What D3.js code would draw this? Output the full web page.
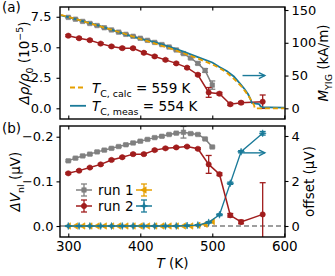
<!DOCTYPE html>
<html><head><meta charset="utf-8">
<script src="https://cdn.jsdelivr.net/npm/d3@7"></script>
<style>body{margin:0;background:#fff} svg{display:block} text{font-family:"DejaVu Sans",sans-serif}</style>
</head><body><svg id="c" width="335" height="276"></svg>
<script>
// ---- data ----
const run1T      = [300,310,320,330,340,350,360,370,380,390,400,410,420,430,440,450,460,470,480,490,500];
const run1Rho    = [7.45,7.30,7.12,6.95,6.78,6.60,6.42,6.24,6.06,5.90,5.74,5.57,5.40,5.22,5.02,4.78,4.48,4.12,3.68,3.10,1.90];
const run1RhoErr = [0.05,0.05,0.05,0.05,0.05,0.05,0.05,0.05,0.05,0.05,0.05,0.05,0.05,0.05,0.05,0.06,0.06,0.08,0.10,0.15,0.34];
const run1Vnl    = [-0.146,-0.152,-0.157,-0.161,-0.166,-0.170,-0.174,-0.178,-0.182,-0.186,-0.190,-0.194,-0.198,-0.201,-0.205,-0.208,-0.210,-0.207,-0.205,-0.195,-0.177];
const run1VnlErr = [0.002,0.002,0.002,0.002,0.002,0.002,0.002,0.002,0.002,0.002,0.002,0.002,0.002,0.002,0.002,0.002,0.013,0.002,0.002,0.002,0.002];
const run1Off    = [0,0,0,0,0,0,0,0,0,0,0,0,0,0,0,0,0,0,0.03,0.08,0.2];

const run2T      = [300,315,330,345,360,375,390,405,420,435,450,465,480,495,510,525,540,570];
const run2Rho    = [5.95,5.74,5.58,5.30,5.07,4.93,4.92,4.55,4.25,3.97,3.68,3.33,2.75,1.30,1.20,0.33,0.46,0.54];
const run2RhoErr = [0.08,0.08,0.08,0.08,0.08,0.08,0.08,0.08,0.08,0.08,0.08,0.08,0.08,0.40,0.10,0.10,0.10,0.55];
const run2Vnl    = [-0.118,-0.124,-0.131,-0.138,-0.148,-0.154,-0.161,-0.161,-0.170,-0.174,-0.176,-0.178,-0.173,-0.138,-0.116,-0.024,-0.009,-0.026];
const run2VnlErr = [0.002,0.002,0.002,0.002,0.002,0.002,0.002,0.002,0.002,0.002,0.002,0.002,0.002,0.020,0.003,0.004,0.004,0.071];
const run2Off    = [0,0,0,0,0,0,0,0,0,0,0,0.02,0.04,0.16,0.50,1.90,3.30,4.12];
const run2OffErr = [0.02,0.02,0.02,0.02,0.02,0.02,0.02,0.02,0.02,0.02,0.02,0.02,0.02,0.03,0.04,0.05,0.05,0.08];

const mMeasT = [290,300,320,340,360,380,400,420,440,460,480,500,510,520,530,540,545,550,553,555,560,565,567,570,580,600];
const mMeasV = [142,139,133,127,120,112.5,106,101,94,86.5,78,70,63,57,48.5,36,29,21,14,8,7,6.5,3,1.5,1.5,1];
const mCalcT = [290,300,320,340,360,380,400,420,440,460,480,500,510,520,530,540,545,550,554,556,558,559,600];
const mCalcV = [142.5,139.5,133,126.5,120,113,106,99,92,84,76,67,61.5,54.5,45,34,27,19.5,12,8.5,5,0,0];

const xTicks   = [300,400,500,600];
const rhoTicks = [0,2.5,5,7.5];
const mTicks   = [0,50,100,150];
const vnlTicks = [0,-0.1,-0.2];
const offTicks = [0,2,4];

const legendA = [{tc:"C, calc", val:"559"},{tc:"C, meas", val:"554"}];
const legendB = ["run 1","run 2"];

// ---- style ----
const C = {gray:"#808080", red:"#a11d1d", teal:"#1a7a99", orange:"#e69f00"};
const FS = 13.5, TFS = 13;
const svg = d3.select("#c");
const L = 60, R = 285, aT = 7, aB = 119, bT = 126, bB = 237;

const x  = d3.scaleLinear().domain([288.5,601]).range([L,R]);
const yA = d3.scaleLinear().domain([-0.877,8.30]).range([aB,aT]);
const yM = d3.scaleLinear().domain([-16.3,154.6]).range([aB,aT]);
const yB = d3.scaleLinear().domain([0.0246,-0.224]).range([bB,bT]);
const yO = d3.scaleLinear().domain([-0.489,4.444]).range([bB,bT]);

svg.append("defs").html(`<clipPath id="ca"><rect x="${L}" y="${aT}" width="${R-L}" height="${aB-aT}"/></clipPath>
<clipPath id="cb"><rect x="${L}" y="${bT}" width="${R-L}" height="${bB-bT}"/></clipPath>`);

function rich(sel, parts, fs){
  let shift = 0;
  parts.forEach(p=>{
    const ts = sel.append("tspan").text(p.t);
    const target = p.sub ? fs*0.3 : p.sup ? -fs*0.42 : 0;
    const dy = target - shift;
    if (dy) ts.attr("dy", dy);
    shift = target;
    if (p.sub||p.sup) ts.attr("font-size", fs*0.7);
    if (p.i) ts.attr("font-style","italic");
  });
}

const triL = "M-3.2,0L2.2,-3.2L2.2,3.2Z";
const star4 = "M0,-3.5L0.9,-0.9L3.5,0L0.9,0.9L0,3.5L-0.9,0.9L-3.5,0L-0.9,-0.9Z";
const sq = d3.symbol().type(d3.symbolSquare).size(20)();
const circ = d3.symbol().type(d3.symbolCircle).size(22)();

function series(g, ys, T, V, E, color, marker, lw){
  const pts = T.map((t,i)=>({t, v:V[i], e:E?E[i]:0}));
  g.append("path").datum(pts)
    .attr("d", d3.line().x(d=>x(d.t)).y(d=>ys(d.v)))
    .attr("fill","none").attr("stroke",color).attr("stroke-width",lw||1.5);
  if (E){
    const eb = g.append("g").attr("stroke",color).attr("stroke-width",1.3);
    pts.forEach(d=>{
      const y1 = ys(d.v-d.e), y2 = ys(d.v+d.e), xx = x(d.t);
      eb.append("line").attr("x1",xx).attr("x2",xx).attr("y1",y1).attr("y2",y2);
      eb.append("line").attr("x1",xx-3).attr("x2",xx+3).attr("y1",y1).attr("y2",y1);
      eb.append("line").attr("x1",xx-3).attr("x2",xx+3).attr("y1",y2).attr("y2",y2);
    });
  }
  g.append("g").selectAll("path").data(pts).join("path")
    .attr("d",marker).attr("transform",d=>`translate(${x(d.t)},${ys(d.v)})`)
    .attr("fill",color).attr("stroke",color).attr("stroke-width",0.6);
}

// ---- panel a ----
const ga = svg.append("g").attr("clip-path","url(#ca)");
series(ga, yA, run1T, run1Rho, run1RhoErr, C.gray, sq);
series(ga, yA, run2T, run2Rho, run2RhoErr, C.red, circ);
ga.append("path").datum(mMeasT.map((t,i)=>[t,mMeasV[i]]))
  .attr("d", d3.line().x(d=>x(d[0])).y(d=>yM(d[1])))
  .attr("fill","none").attr("stroke",C.teal).attr("stroke-width",1.8);
ga.append("path").datum(mCalcT.map((t,i)=>[t,mCalcV[i]]))
  .attr("d", d3.line().x(d=>x(d[0])).y(d=>yM(d[1])))
  .attr("fill","none").attr("stroke",C.orange).attr("stroke-width",1.8).attr("stroke-dasharray","5,3");

// ---- panel b ----
const gb = svg.append("g").attr("clip-path","url(#cb)");
gb.append("line").attr("x1",L).attr("x2",R).attr("y1",yO(0)).attr("y2",yO(0))
  .attr("stroke","#7f7f7f").attr("stroke-width",1.5).attr("stroke-dasharray","5,3");
series(gb, yO, run1T, run1Off, null, C.orange, triL, 1.3);
series(gb, yO, run2T, run2Off, run2OffErr, C.teal, star4, 1.3);
series(gb, yB, run1T, run1Vnl, run1VnlErr, C.gray, sq);
series(gb, yB, run2T, run2Vnl, run2VnlErr, C.red, circ);

// arrows
function arrow(x1,x2,y){
  const g = svg.append("g").attr("stroke",C.teal).attr("stroke-width",1.4).attr("fill","none");
  g.append("line").attr("x1",x1).attr("x2",x2).attr("y1",y).attr("y2",y);
  g.append("path").attr("d",`M${x2-6},${y-3}L${x2},${y}L${x2-6},${y+3}`);
}
arrow(x(542), x(573), yM(50));
arrow(x(544), x(573), yO(3.25));

// ---- axes ----
function styleAxis(g){
  g.select(".domain").remove();
  g.selectAll("line").attr("stroke","#000").attr("stroke-width",1.1);
  g.selectAll("text").attr("font-size",TFS).attr("fill","#000").attr("font-family","DejaVu Sans");
}
svg.append("g").attr("transform",`translate(${L},0)`)
  .call(d3.axisLeft(yA).tickValues(rhoTicks).tickSize(3.5).tickPadding(5).tickFormat(d3.format(".1f"))).call(styleAxis);
svg.append("g").attr("transform",`translate(${R},0)`)
  .call(d3.axisRight(yM).tickValues(mTicks).tickSize(3.5).tickPadding(3).tickFormat(d3.format("d"))).call(styleAxis);
svg.append("g").attr("transform",`translate(${L},0)`)
  .call(d3.axisLeft(yB).tickValues(vnlTicks).tickSize(3.5).tickPadding(3).tickFormat(d3.format(".1f"))).call(styleAxis);
svg.append("g").attr("transform",`translate(${R},0)`)
  .call(d3.axisRight(yO).tickValues(offTicks).tickSize(3.5).tickPadding(3).tickFormat(d3.format("d"))).call(styleAxis);
[aT,aB,bT,bB].forEach((yy,i)=>{
  const ax = (i%2===0) ? d3.axisTop(x) : d3.axisBottom(x);
  const g = svg.append("g").attr("transform",`translate(0,${yy})`)
    .call(ax.tickValues(xTicks).tickSizeInner(-3.5).tickSizeOuter(0).tickPadding(4.5));
  styleAxis(g);
  g.selectAll("text").attr("font-size",FS);
  if (i!==3) g.selectAll("text").remove();
});
svg.append("rect").attr("x",L).attr("y",aT).attr("width",R-L).attr("height",aB-aT)
  .attr("fill","none").attr("stroke","#000").attr("stroke-width",1.4);
svg.append("rect").attr("x",L).attr("y",bT).attr("width",R-L).attr("height",bB-bT)
  .attr("fill","none").attr("stroke","#000").attr("stroke-width",1.4);

// ---- labels ----
function rotLabel(cx, cy, parts){
  const t = svg.append("text").attr("transform",`translate(${cx},${cy}) rotate(-90)`)
    .attr("text-anchor","middle").attr("font-size",FS);
  rich(t, parts, FS);
}
rotLabel(29, 63, [{t:"Δρ/ρ",i:true},{t:"0",sub:true},{t:" (10"},{t:"−5",sup:true},{t:")"}]);
rotLabel(19.5, 181.5, [{t:"ΔV",i:true},{t:"nl",sub:true},{t:" (μV)"}]);
rotLabel(328, 63, [{t:"M",i:true},{t:"YIG",sub:true},{t:" (kA/m)"}]);
rotLabel(313.5, 181.5, [{t:"offset (μV)"}]);
const xl = svg.append("text").attr("x",(L+R)/2).attr("y",268).attr("text-anchor","middle").attr("font-size",FS);
rich(xl, [{t:"T",i:true},{t:" (K)"}], FS);
svg.append("text").attr("x",2).attr("y",12).attr("font-size",FS).text("(a)");
svg.append("text").attr("x",2).attr("y",133).attr("font-size",FS).text("(b)");

// legend a
legendA.forEach((d,i)=>{
  const yy = 87.5 + i*18.3;
  svg.append("line").attr("x1",70).attr("x2",86).attr("y1",yy).attr("y2",yy)
    .attr("stroke", i===0?C.orange:C.teal).attr("stroke-width",1.8)
    .attr("stroke-dasharray", i===0?"5,3":null);
  const t = svg.append("text").attr("x",92).attr("y",yy+5).attr("font-size",FS);
  rich(t, [{t:"T",i:true},{t:d.tc,sub:true},{t:" = "+d.val+" K"}], FS);
});
// legend b
function handle(cx, cy, color, marker){
  const g = svg.append("g").attr("stroke",color).attr("stroke-width",1.3);
  g.append("line").attr("x1",cx-8).attr("x2",cx+8).attr("y1",cy).attr("y2",cy).attr("stroke-width",1.5);
  g.append("line").attr("x1",cx).attr("x2",cx).attr("y1",cy-6).attr("y2",cy+6);
  g.append("line").attr("x1",cx-3).attr("x2",cx+3).attr("y1",cy-6).attr("y2",cy-6);
  g.append("line").attr("x1",cx-3).attr("x2",cx+3).attr("y1",cy+6).attr("y2",cy+6);
  g.append("path").attr("d",marker).attr("transform",`translate(${cx},${cy})`).attr("fill",color).attr("stroke-width",0.6);
}
legendB.forEach((s,i)=>{
  const yy = 190 + i*16;
  handle(84, yy, i===0?C.gray:C.red, i===0?sq:circ);
  handle(144, yy, i===0?C.orange:C.teal, i===0?triL:star4);
  svg.append("text").attr("x",98).attr("y",yy+5).attr("font-size",FS).text(s);
});
</script></body></html>
